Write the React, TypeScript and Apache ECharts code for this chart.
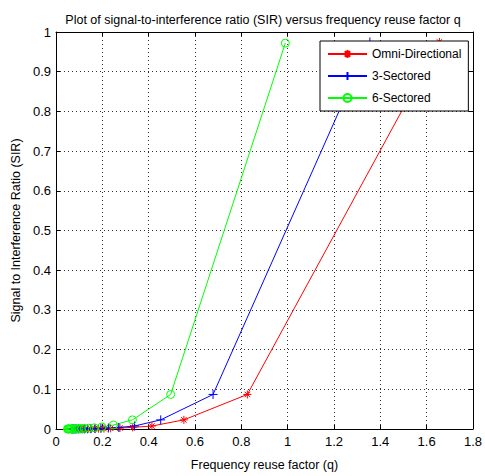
import React, { useEffect, useRef } from "react";
import * as echarts from "echarts";

const titleText = "Plot of signal-to-interference ratio (SIR) versus frequency reuse factor q";
const xName = "Frequency reuse factor (q)";
const yName = "Signal to Interference Ratio (SIR)";
const seriesNames = ["Omni-Directional", "3-Sectored", "6-Sectored"];

const omniX = [1.655, 0.826, 0.552, 0.414, 0.331, 0.276, 0.236, 0.207, 0.184, 0.166, 0.150, 0.138, 0.127, 0.118, 0.110, 0.103, 0.097, 0.092, 0.087, 0.083];
const omniY = [0.975, 0.087, 0.023, 0.0075, 0.004, 0.0025, 0.0016, 0.001, 0.0007, 0.0005, 0.0004, 0.0003, 0.0002, 0.0002, 0.0001, 0.0001, 0.0001, 0.0001, 0.0001, 0.0001];
const sec3X = [1.355, 0.678, 0.452, 0.339, 0.271, 0.226, 0.194, 0.169, 0.151, 0.136, 0.123, 0.113, 0.104, 0.097, 0.090, 0.085, 0.080, 0.075, 0.071, 0.068];
const sec3Y = [0.975, 0.087, 0.023, 0.0075, 0.004, 0.0025, 0.0016, 0.001, 0.0007, 0.0005, 0.0004, 0.0003, 0.0002, 0.0002, 0.0001, 0.0001, 0.0001, 0.0001, 0.0001, 0.0001];
const sec6X = [0.99, 0.495, 0.33, 0.2475, 0.198, 0.165, 0.1414, 0.1238, 0.11, 0.099, 0.09, 0.0825, 0.0762, 0.0707, 0.066, 0.0619, 0.0582, 0.055, 0.0521, 0.0495];
const sec6Y = [0.972, 0.087, 0.023, 0.010, 0.005, 0.003, 0.002, 0.0013, 0.001, 0.0007, 0.0005, 0.0004, 0.0003, 0.0002, 0.0002, 0.0001, 0.0001, 0.0001, 0.0001, 0.0001];

const FONT = "'Liberation Sans', Arial, Helvetica, sans-serif";

const STAR = "path://M5 0L5 10M0 5L10 5M1.6 1.6L8.4 8.4M8.4 1.6L1.6 8.4";
const PLUS = "path://M5 0L5 10M0 5L10 5";
const CIRCLE = "path://M0 5A5 5 0 1 1 10 5A5 5 0 1 1 0 5Z";

function pairs(xs: number[], ys: number[]) {
  return xs.map((x, i) => [x, ys[i]]);
}

export default function App() {
  const ref = useRef<HTMLDivElement>(null);
  useEffect(() => {
    document.body.style.margin = "0";
    const chart = echarts.init(ref.current!, null, { renderer: "svg" });
    const axisCommon = {
      type: "value" as const,
      axisLine: { show: true, onZero: false, lineStyle: { color: "#000", width: 1 } },
      axisTick: { show: true, inside: true, length: 4, lineStyle: { color: "#000" } },
    };
    const mk = (name: string, data: number[][], color: string, symbol: string, size: number) => ({
      name,
      type: "line",
      data,
      symbol,
      symbolSize: size,
      showSymbol: true,
      clip: true,
      lineStyle: { color, width: 1 },
      itemStyle: { color: "rgba(0,0,0,0)", borderColor: color, borderWidth: 1 },
      emphasis: { disabled: true },
      z: 3,
    });
    chart.setOption({
      animation: false,
      backgroundColor: "#fff",
      title: {
        text: titleText,
        left: 258,
        textAlign: "center",
        top: 8,
        textStyle: { fontFamily: FONT, fontSize: 12.5, fontWeight: "normal", color: "#000" },
      },
      grid: { left: 56, right: 12, top: 32, bottom: 44 },
      legend: {
        left: 320,
        top: 41,
        orient: "vertical",
        backgroundColor: "#fff",
        borderColor: "#000",
        borderWidth: 1,
        padding: [7, 7, 7, 7],
        itemGap: 10,
        itemWidth: 39,
        itemHeight: 10,
        textStyle: { fontFamily: FONT, fontSize: 12, color: "#000" },
        data: seriesNames,
        z: 10,
      },
      xAxis: [
        {
          ...axisCommon,
          min: 0,
          max: 1.8,
          interval: 0.2,
          position: "bottom",
          name: xName,
          nameLocation: "middle",
          nameGap: 29,
          nameTextStyle: { fontFamily: FONT, fontSize: 12.5, color: "#000" },
          axisLabel: { fontFamily: FONT, fontSize: 13, color: "#000", margin: 6 },
          splitLine: { show: true, lineStyle: { color: "#333", type: [1, 3], width: 1 } },
        },
        {
          ...axisCommon,
          min: 0,
          max: 1.8,
          interval: 0.2,
          position: "top",
          axisLabel: { show: false },
          splitLine: { show: false },
        },
      ],
      yAxis: [
        {
          ...axisCommon,
          min: 0,
          max: 1,
          interval: 0.1,
          position: "left",
          name: yName,
          nameLocation: "middle",
          nameGap: 30,
          nameTextStyle: { fontFamily: FONT, fontSize: 12.5, color: "#000" },
          axisLabel: { fontFamily: FONT, fontSize: 13, color: "#000", margin: 5 },
          splitLine: { show: true, lineStyle: { color: "#333", type: [1, 3], width: 1 } },
        },
        {
          ...axisCommon,
          min: 0,
          max: 1,
          interval: 0.1,
          position: "right",
          axisLabel: { show: false },
          splitLine: { show: false },
        },
      ],
      series: [
        mk(seriesNames[0], pairs(omniX, omniY), "#ff0000", STAR, 8),
        mk(seriesNames[1], pairs(sec3X, sec3Y), "#0000ff", PLUS, 9),
        mk(seriesNames[2], pairs(sec6X, sec6Y), "#00ff00", CIRCLE, 8),
      ],
    });
    return () => chart.dispose();
  }, []);
  return <div ref={ref} style={{ position: "absolute", left: 0, top: 0, width: 485, height: 476 }} />;
}
